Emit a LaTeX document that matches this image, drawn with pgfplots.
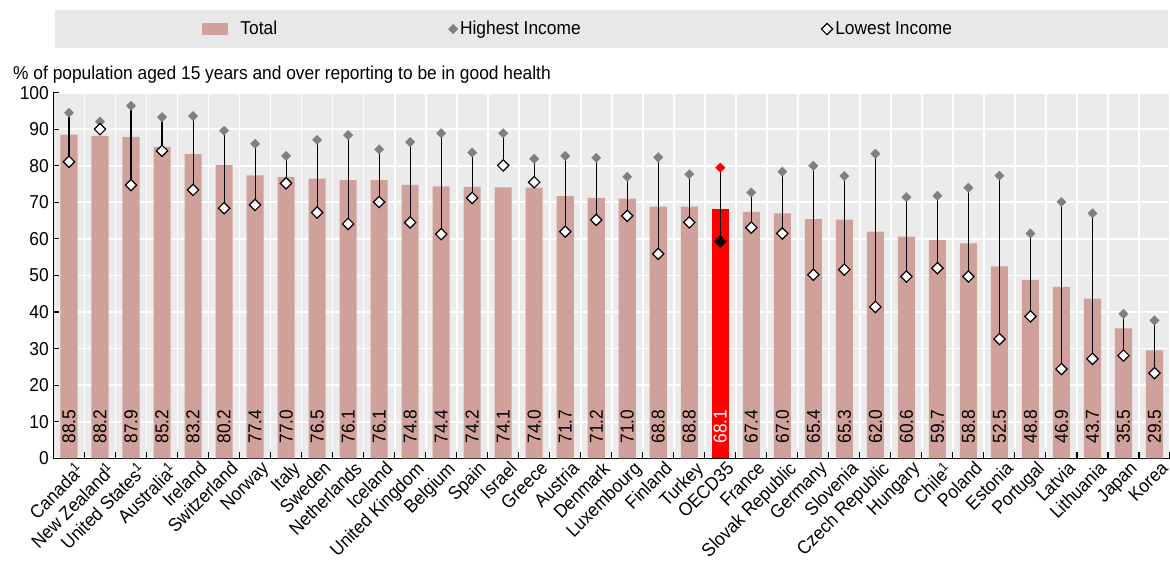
\documentclass[border=0pt]{standalone}
\usepackage{fontspec}
\setmainfont{Liberation Sans}[FakeStretch=0.93]
\usepackage{pgfplots}
\pgfplotsset{compat=1.18}
\usepackage{pgfplotstable}
\definecolor{barcol}{HTML}{CFA19A}
\definecolor{bgcol}{HTML}{EBEBEB}
\definecolor{legcol}{HTML}{E8E8E8}
\definecolor{hicol}{HTML}{808080}

\pgfplotstableread{
x total high low lab
0 88.5 94.5 81.1 88.5
1 88.2 92.1 90.0 88.2
2 87.9 96.4 74.7 87.9
3 85.2 93.3 84.1 85.2
4 83.2 93.6 73.4 83.2
5 80.2 89.6 68.4 80.2
6 77.4 86.0 69.3 77.4
7 77.0 82.7 75.2 77.0
8 76.5 87.1 67.2 76.5
9 76.1 88.4 64.1 76.1
10 76.1 84.5 70.1 76.1
11 74.8 86.5 64.5 74.8
12 74.4 88.9 61.3 74.4
13 74.2 83.6 71.2 74.2
14 74.1 88.9 80.1 74.1
15 74.0 81.9 75.5 74.0
16 71.7 82.7 62.0 71.7
17 71.2 82.2 65.2 71.2
18 71.0 77.0 66.3 71.0
19 68.8 82.3 55.9 68.8
20 68.8 77.7 64.5 68.8
22 67.4 72.7 63.1 67.4
23 67.0 78.4 61.5 67.0
24 65.4 80.0 50.2 65.4
25 65.3 77.2 51.6 65.3
26 62.0 83.3 41.4 62.0
27 60.6 71.4 49.7 60.6
28 59.7 71.8 52.0 59.7
29 58.8 74.0 49.7 58.8
30 52.5 77.3 32.6 52.5
31 48.8 61.5 38.8 48.8
32 46.9 70.1 24.4 46.9
33 43.7 67.0 27.2 43.7
34 35.5 39.5 28.1 35.5
35 29.5 37.7 23.3 29.5
}\maindata

\pgfplotstableread{
x total high low lab
21 68.1 79.5 59.3 68.1
}\oecddata

\begin{document}
\begin{tikzpicture}
\begin{axis}[
  scale only axis,
  width=837.4pt, height=274.2pt,
  font=\fontsize{14pt}{16.5pt}\selectfont,
  /pgf/number format/assume math mode=true,
  xmin=-0.5, xmax=35.5, ymin=0, ymax=100,
  clip=false,
  axis x line*=bottom, axis y line*=left,
  axis line style={black, line width=0.9pt},
  axis background/.style={fill=bgcol},
  xtick={0,...,35},
  xticklabels={Canada\textsuperscript{1},New Zealand\textsuperscript{1},United States\textsuperscript{1},Australia\textsuperscript{1},Ireland,Switzerland,Norway,Italy,Sweden,Netherlands,Iceland,United Kingdom,Belgium,Spain,Israel,Greece,Austria,Denmark,Luxembourg,Finland,Turkey,OECD35,France,Slovak Republic,Germany,Slovenia,Czech Republic,Hungary,Chile\textsuperscript{1},Poland,Estonia,Portugal,Latvia,Lithuania,Japan,Korea},
  xticklabel style={xshift=4pt, rotate=45, anchor=north east, inner sep=1pt},
  minor xtick={-0.5,0.5,...,35.5},
  major x tick style={draw=none},
  minor x tick style={black, line width=0.8pt},
  xtick align=inside,
  ytick align=inside,
  ytick={0,10,...,100},
  y tick style={black, line width=0.8pt},
  major tick length=4pt, minor tick length=4.5pt,
  xminorgrids=true, xmajorgrids=false, ymajorgrids=true,
  grid style={white, line width=1.3pt},
  minor grid style={white, line width=1.3pt},
  legend columns=3,
  legend style={at={(0.129,1.174)}, anchor=west, draw=none, fill=none,
    nodes={inner sep=1pt}},
]
\fill[legcol] (rel axis cs:0.001,1.122) rectangle (rel axis cs:0.998,1.226);
\coordinate (bbsw) at (rel axis cs:-0.0479,-0.2918);
\coordinate (bbne) at (rel axis cs:1,1.2535);
\node[anchor=west, inner sep=0pt] at (rel axis cs:-0.0363,1.048)
  {\% of population aged 15 years and over reporting to be in good health};

\addplot[ybar, bar width=0.55, bar shift=0pt, fill=barcol, draw=none,
  legend image code/.code={\fill[barcol] (0pt,-4.5pt) rectangle (20pt,4.5pt); \path (28pt,0pt);}]
  table[x=x, y=total] {\maindata};
\addlegendentry{\makebox[155pt][l]{Total}}
\addplot[ybar, bar width=0.55, bar shift=0pt, fill=red, draw=none, forget plot]
  table[x=x, y=total] {\oecddata};

\addplot[only marks, mark=none, forget plot,
  error bars/.cd, y dir=minus, y explicit, error mark=none,
  error bar style={draw=black, line width=0.8pt}]
  table[x=x, y=high, y error minus expr=\thisrow{high}-\thisrow{low}] {\maindata};
\addplot[only marks, mark=none, forget plot,
  error bars/.cd, y dir=minus, y explicit, error mark=none,
  error bar style={draw=black, line width=0.8pt}]
  table[x=x, y=high, y error minus expr=\thisrow{high}-\thisrow{low}] {\oecddata};

\addplot[only marks, mark=square*, mark size=2.5pt,
  mark options={rotate=45, fill=hicol, draw=hicol, line width=0.2pt},
  legend image code/.code={\path (-1.5pt,0pt); \draw[draw=none, mark=square*, mark size=2.5pt, mark options={rotate=45, fill=hicol, draw=hicol, line width=0.2pt}] plot coordinates {(0pt,0pt)}; \path (4pt,0pt);}]
  table[x=x, y=high] {\maindata};
\addlegendentry{\makebox[270pt][l]{Highest Income}}
\addplot[only marks, mark=square*, mark size=3.0pt,
  mark options={rotate=45, fill=white, draw=black, line width=0.9pt},
  legend image code/.code={\draw[draw=none, mark=square*, mark size=3.0pt, mark options={rotate=45, fill=white, draw=black, line width=0.9pt}] plot coordinates {(0pt,0pt)}; \path (5pt,0pt);}]
  table[x=x, y=low] {\maindata};
\addlegendentry{Lowest Income}

\addplot[only marks, mark=square*, mark size=2.5pt, forget plot,
  mark options={rotate=45, fill=red, draw=red, line width=0.2pt}]
  table[x=x, y=high] {\oecddata};
\addplot[only marks, mark=square*, mark size=3.0pt, forget plot,
  mark options={rotate=45, fill=black, draw=black, line width=0.9pt}]
  table[x=x, y=low] {\oecddata};

\addplot[only marks, mark=none, forget plot, point meta=explicit symbolic,
  nodes near coords, nodes near coords style={rotate=90, anchor=west, inner sep=0pt, black}]
  table[x=x, y expr=4.0, meta=lab] {\maindata};
\addplot[only marks, mark=none, forget plot, point meta=explicit symbolic,
  nodes near coords, nodes near coords style={rotate=90, anchor=west, inner sep=0pt, white}]
  table[x=x, y expr=4.0, meta=lab] {\oecddata};
\end{axis}
\pgfresetboundingbox
\useasboundingbox (bbsw) rectangle (bbne);
\end{tikzpicture}
\end{document}
